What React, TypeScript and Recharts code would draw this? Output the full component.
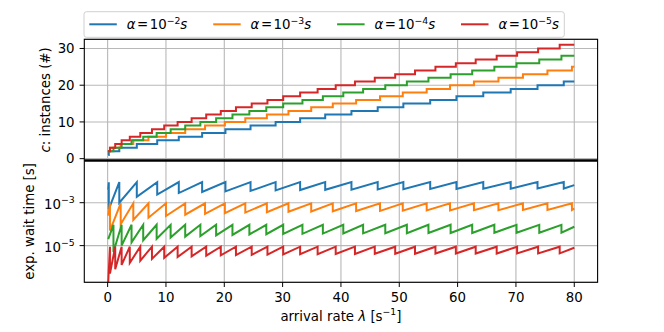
import { CartesianGrid, Line, LineChart, XAxis, YAxis } from "recharts";

const FONT = "DejaVu Sans";
const FS = 13.33;
const SUP = 9.3;
const colors = ["#1f77b4", "#ff7f0e", "#2ca02c", "#d62728"];
const alphaExps = ["2", "3", "4", "5"];

const xTicks = [0, 10, 20, 30, 40, 50, 60, 70, 80];
const cTicks = [0, 10, 20, 30];
const waitTicks = [1e-5, 1e-3];

// segment boundaries (arrival rate) for each alpha; c steps up at every inner boundary
const blueLambda = [0.1, 0.2, 2.0, 5.0, 8.5, 12.2, 16.2, 20.2, 24.5, 28.8, 33.0, 37.3, 41.8, 46.3, 50.7, 55.3, 59.8, 64.4, 69.1, 73.7, 78.2, 80];
const blueC = [1, 2, 3, 4, 5, 6, 7, 8, 9, 10, 11, 12, 13, 14, 15, 16, 17, 18, 19, 20, 21];
// log10 of wait time at start / end of each segment
const blueLo = [-2.4, -3.3, -3.0, -2.72, -2.62, -2.55, -2.5, -2.47, -2.45, -2.43, -2.41, -2.4, -2.39, -2.38, -2.37, -2.36, -2.36, -2.35, -2.35, -2.34, -2.34];
const blueHi = [-2.05, -2.04, -2.04, -2.04, -2.04, -2.04, -2.04, -2.04, -2.04, -2.04, -2.04, -2.04, -2.04, -2.04, -2.04, -2.04, -2.04, -2.04, -2.04, -2.04, -2.18];

const orangeLambda = [0.1, 0.4, 2.24, 4.4, 7.0, 10.0, 13.3, 16.7, 20.1, 23.6, 27.3, 31.0, 34.9, 38.6, 42.6, 46.7, 50.6, 54.7, 58.7, 62.8, 67.0, 71.2, 75.4, 79.6, 80];
const orangeC = [2, 3, 4, 5, 6, 7, 8, 9, 10, 11, 12, 13, 14, 15, 16, 17, 18, 19, 20, 21, 22, 23, 24, 25];
const orangeLo = [-3.6, -4.3, -4.0, -3.8, -3.7, -3.62, -3.56, -3.52, -3.49, -3.46, -3.44, -3.42, -3.41, -3.4, -3.39, -3.38, -3.37, -3.36, -3.36, -3.35, -3.35, -3.34, -3.34, -3.34];
const orangeHi = [-3.03, -3.03, -3.03, -3.03, -3.03, -3.03, -3.03, -3.03, -3.03, -3.03, -3.03, -3.03, -3.03, -3.03, -3.03, -3.03, -3.03, -3.03, -3.03, -3.03, -3.03, -3.03, -3.03, -3.28];

const greenLambda = [0.1, 1.0, 2.4, 4.1, 6.1, 8.4, 10.8, 13.3, 15.9, 18.6, 21.4, 24.3, 27.2, 30.1, 33.4, 36.9, 40.4, 43.8, 47.6, 51.3, 55.0, 58.8, 62.5, 66.3, 70.1, 74.0, 77.8, 80];
const greenC = [2, 3, 4, 5, 6, 7, 8, 9, 10, 11, 12, 13, 14, 15, 16, 17, 18, 19, 20, 21, 22, 23, 24, 25, 26, 27, 28];
const greenLo = [-4.7, -5.3, -5.0, -4.85, -4.75, -4.68, -4.62, -4.58, -4.55, -4.52, -4.5, -4.48, -4.47, -4.46, -4.45, -4.44, -4.43, -4.43, -4.42, -4.42, -4.41, -4.41, -4.41, -4.4, -4.4, -4.4, -4.4];
const greenHi = [-4.03, -4.03, -4.03, -4.03, -4.03, -4.03, -4.03, -4.03, -4.03, -4.03, -4.03, -4.03, -4.03, -4.03, -4.03, -4.03, -4.03, -4.03, -4.03, -4.03, -4.03, -4.03, -4.03, -4.03, -4.03, -4.03, -4.12];

const redLambda = [0.05, 0.4, 1.3, 2.4, 3.8, 5.6, 7.6, 9.7, 12.0, 14.4, 16.9, 19.4, 22.0, 24.7, 27.4, 30.1, 33.0, 36.0, 39.1, 42.4, 45.8, 49.3, 52.7, 56.2, 59.7, 63.1, 66.7, 70.2, 73.8, 77.5, 80];
const redC = [2, 3, 4, 5, 6, 7, 8, 9, 10, 11, 12, 13, 14, 15, 16, 17, 18, 19, 20, 21, 22, 23, 24, 25, 26, 27, 28, 29, 30, 31];
const redLo = [-7.0, -6.3, -6.1, -5.9, -5.8, -5.7, -5.62, -5.57, -5.53, -5.5, -5.47, -5.45, -5.44, -5.43, -5.42, -5.41, -5.4, -5.4, -5.39, -5.39, -5.38, -5.38, -5.38, -5.37, -5.37, -5.37, -5.37, -5.36, -5.36, -5.36];
const redHi = [-5.05, -5.05, -5.05, -5.05, -5.05, -5.05, -5.05, -5.05, -5.05, -5.05, -5.05, -5.05, -5.05, -5.05, -5.05, -5.05, -5.05, -5.05, -5.05, -5.05, -5.05, -5.05, -5.05, -5.05, -5.05, -5.05, -5.05, -5.05, -5.05, -5.1];

const series = [
  { lambda: blueLambda, c: blueC, lo: blueLo, hi: blueHi },
  { lambda: orangeLambda, c: orangeC, lo: orangeLo, hi: orangeHi },
  { lambda: greenLambda, c: greenC, lo: greenLo, hi: greenHi },
  { lambda: redLambda, c: redC, lo: redLo, hi: redHi },
];

const stepData = (s: (typeof series)[number]) => [
  ...s.c.map((c, i) => ({ x: s.lambda[i], y: c })),
  { x: s.lambda[s.lambda.length - 1], y: s.c[s.c.length - 1] },
];

const waitData = (s: (typeof series)[number]) =>
  s.lo.flatMap((lo, i) => [
    { x: s.lambda[i], y: 10 ** lo },
    { x: s.lambda[i + 1], y: 10 ** s.hi[i] },
  ]);

// axes boxes (px)
const L = 84.3;
const R = 597.6;
const TOP = 39.3;
const MID = 160.5;
const BOT = 282.3;
const YW = 50;
const X_DOMAIN = [-4, 84];

const tickStyle = { fill: "#000", fontSize: FS, fontFamily: FONT };

// vertical grid at the x ticks, through the axis scale
const xGrid = ({ xAxis, offset }: any) =>
  xTicks.map((t) =>
    typeof xAxis?.scale === "function"
      ? xAxis.scale(t)
      : offset.left + ((t - X_DOMAIN[0]) / (X_DOMAIN[1] - X_DOMAIN[0])) * offset.width,
  );

function PowTick(props: any) {
  const { x, y, payload } = props;
  const e = Math.round(Math.log10(payload.value));
  return (
    <text x={x} y={y} textAnchor="end" fontFamily={FONT} fontSize={FS} fill="#000">
      <tspan dy={6}>10</tspan>
      <tspan dy={-6} fontSize={SUP}>{`\u2212${Math.abs(e)}`}</tspan>
    </text>
  );
}

export default function App() {
  return (
    <div style={{ position: "fixed", left: 0, top: 0, width: 664, height: 332, background: "#fff", fontFamily: FONT }}>
      <div style={{ position: "absolute", left: 0, top: 0 }}>
        <LineChart width={664} height={170} margin={{ top: TOP, right: 664 - R, bottom: 170 - MID, left: L - YW }}>
          <CartesianGrid stroke="#b8b8b8" strokeWidth={1.1} verticalCoordinatesGenerator={xGrid} />
          <XAxis type="number" dataKey="x" domain={X_DOMAIN} ticks={xTicks} height={0} tick={false} tickLine={false} axisLine={false} />
          <YAxis
            type="number"
            domain={[-0.5, 32.5]}
            ticks={cTicks}
            width={YW}
            tick={tickStyle}
            tickSize={4.7}
            tickMargin={5}
            tickLine={{ stroke: "#000" }}
            axisLine={false}
          />
          {series.map((s, i) => (
            <Line
              key={i}
              data={stepData(s)}
              dataKey="y"
              type="stepAfter"
              stroke={colors[i]}
              strokeWidth={2}
              dot={false}
              isAnimationActive={false}
            />
          ))}
        </LineChart>
      </div>
      <div style={{ position: "absolute", left: 0, top: 0 }}>
        <LineChart width={664} height={332} margin={{ top: MID, right: 664 - R, bottom: 332 - BOT - 30, left: L - YW }}>
          <CartesianGrid stroke="#b8b8b8" strokeWidth={1.1} verticalCoordinatesGenerator={xGrid} />
          <XAxis
            type="number"
            dataKey="x"
            domain={X_DOMAIN}
            ticks={xTicks}
            height={30}
            tick={tickStyle}
            tickSize={4.7}
            tickMargin={5.3}
            tickLine={{ stroke: "#000" }}
            axisLine={false}
          />
          <YAxis
            type="number"
            scale="log"
            domain={[10 ** -6.71, 10 ** -1.033]}
            allowDataOverflow
            ticks={waitTicks}
            width={YW}
            tick={<PowTick />}
            tickSize={4.7}
            tickMargin={5}
            tickLine={{ stroke: "#000" }}
            axisLine={false}
          />
          {series.map((s, i) => (
            <Line
              key={i}
              data={waitData(s)}
              dataKey="y"
              type="linear"
              stroke={colors[i]}
              strokeWidth={2}
              dot={false}
              isAnimationActive={false}
            />
          ))}
        </LineChart>
      </div>
      <svg width={664} height={332} style={{ position: "absolute", left: 0, top: 0, pointerEvents: "none" }}>
        <rect x={L} y={TOP} width={R - L} height={BOT - TOP} fill="none" stroke="#000" strokeWidth={1.1} />
        <line x1={L} x2={R} y1={MID} y2={MID} stroke="#000" strokeWidth={2.4} />
        <text x={0} y={0} transform={`translate(49.5,${(TOP + MID) / 2}) rotate(-90)`} textAnchor="middle" fontFamily={FONT} fontSize={FS}>
          <tspan fontStyle="italic">c</tspan>: instances (#)
        </text>
        <text x={0} y={0} transform={`translate(33.8,${(MID + BOT) / 2}) rotate(-90)`} textAnchor="middle" fontFamily={FONT} fontSize={FS}>
          exp. wait time [s]
        </text>
        <text x={(L + R) / 2} y={320.5} textAnchor="middle" fontFamily={FONT} fontSize={FS}>
          arrival rate <tspan fontStyle="italic">λ</tspan> [s
          <tspan dy={-5.5} fontSize={SUP}>−1</tspan>
          <tspan dy={5.5}>]</tspan>
        </text>
        <rect x={84} y={11.7} width={480.3} height={25.6} rx={2.5} fill="#fff" stroke="#d0d0d0" strokeWidth={1} />
        {alphaExps.map((e, i) => {
          const x0 = 89.3 + 123.9 * i;
          return (
            <g key={e}>
              <line x1={x0} x2={x0 + 27.5} y1={24.3} y2={24.3} stroke={colors[i]} strokeWidth={2} />
              <text x={x0 + 37.4} y={29} fontFamily={FONT} fontSize={FS}>
                <tspan fontStyle="italic">α</tspan>
                <tspan dx={1.5}>=</tspan>
                <tspan dx={1.5}>10</tspan>
                <tspan dy={-5.5} fontSize={SUP}>{`\u2212${e}`}</tspan>
                <tspan dy={5.5} fontStyle="italic">s</tspan>
              </text>
            </g>
          );
        })}
      </svg>
    </div>
  );
}
